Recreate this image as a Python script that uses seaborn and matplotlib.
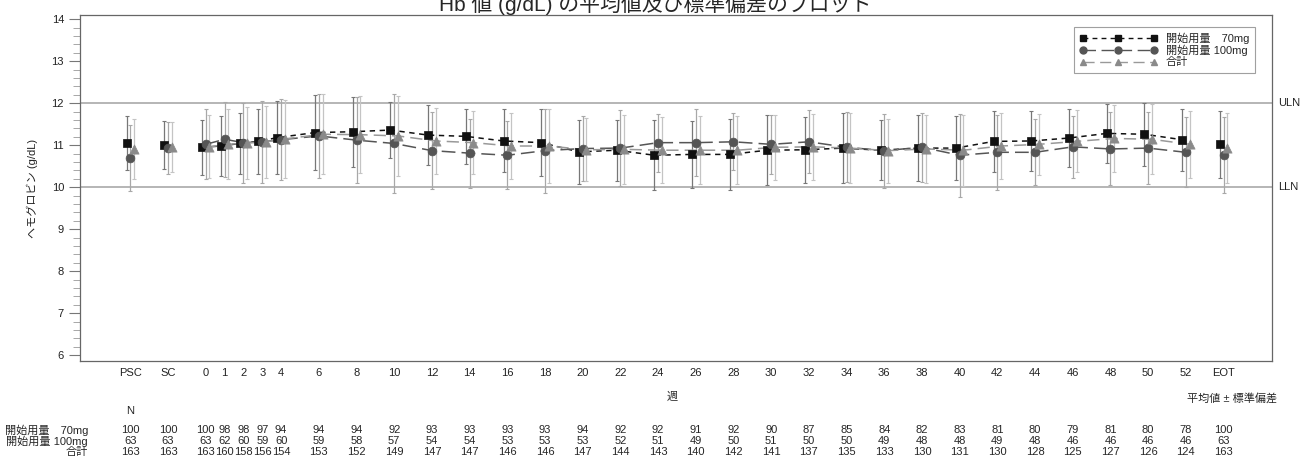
import numpy as np
import matplotlib
matplotlib.use("Agg")
import matplotlib.pyplot as plt
from matplotlib.lines import Line2D
import seaborn as sns
import pandas as pd

# visit labels and their week positions on the x axis
visits = ["PSC", "SC", "0", "1", "2", "3", "4", "6", "8", "10", "12", "14", "16", "18", "20",
          "22", "24", "26", "28", "30", "32", "34", "36", "38", "40", "42", "44", "46", "48",
          "50", "52", "EOT"]
weeks = [-4, -2, 0, 1, 2, 3, 4, 6, 8, 10, 12, 14, 16, 18, 20, 22, 24, 26, 28, 30, 32, 34,
         36, 38, 40, 42, 44, 46, 48, 50, 52, 54]

mean_70 = [11.06, 11.00, 10.95, 10.98, 11.04, 11.09, 11.18, 11.30, 11.32, 11.36, 11.24, 11.21,
           11.10, 11.06, 10.84, 10.88, 10.76, 10.78, 10.78, 10.88, 10.89, 10.93, 10.88, 10.93,
           10.93, 11.09, 11.10, 11.17, 11.28, 11.26, 11.13, 11.02]
mean_100 = [10.69, 10.93, 11.02, 11.14, 11.06, 11.08, 11.13, 11.22, 11.12, 11.04, 10.87, 10.81,
            10.76, 10.87, 10.92, 10.93, 11.06, 11.06, 11.08, 11.02, 11.08, 10.95, 10.87, 10.95,
            10.76, 10.83, 10.83, 10.96, 10.91, 10.93, 10.83, 10.77]
mean_all = [10.91, 10.96, 10.96, 11.02, 11.05, 11.08, 11.15, 11.26, 11.25, 11.22, 11.10, 11.06,
            10.98, 10.98, 10.89, 10.90, 10.88, 10.88, 10.88, 10.95, 10.96, 10.93, 10.87, 10.91,
            10.88, 10.98, 11.02, 11.09, 11.16, 11.14, 11.02, 10.93]

sd_70 = [0.64, 0.57, 0.65, 0.71, 0.73, 0.77, 0.87, 0.89, 0.83, 0.67, 0.71, 0.66, 0.75, 0.79,
         0.76, 0.73, 0.83, 0.80, 0.84, 0.83, 0.79, 0.83, 0.71, 0.79, 0.76, 0.73, 0.72, 0.70,
         0.71, 0.75, 0.74, 0.79]
sd_100 = [0.78, 0.61, 0.83, 0.89, 0.95, 0.97, 0.96, 1.00, 1.03, 1.18, 0.92, 0.82, 0.81, 1.00,
          0.77, 0.90, 0.69, 0.80, 0.68, 0.71, 0.75, 0.83, 0.88, 0.82, 0.99, 0.89, 0.79, 0.73,
          0.87, 0.85, 0.83, 0.90]
sd_all = [0.72, 0.59, 0.75, 0.83, 0.85, 0.86, 0.93, 0.95, 0.91, 0.96, 0.79, 0.75, 0.79, 0.88,
          0.75, 0.83, 0.79, 0.81, 0.81, 0.78, 0.78, 0.83, 0.76, 0.80, 0.85, 0.79, 0.73, 0.74,
          0.80, 0.83, 0.79, 0.83]

n_70 = [100, 100, 100, 98, 98, 97, 94, 94, 94, 92, 93, 93, 93, 93, 94, 92, 92, 91, 92, 90, 87,
        85, 84, 82, 83, 81, 80, 79, 81, 80, 78, 100]
n_100 = [63, 63, 63, 62, 60, 59, 60, 59, 58, 57, 54, 54, 53, 53, 53, 52, 51, 49, 50, 51, 50, 50,
         49, 48, 48, 49, 48, 46, 46, 46, 46, 63]
n_all = [163, 163, 163, 160, 158, 156, 154, 153, 152, 149, 147, 147, 146, 146, 147, 144, 143,
         140, 142, 141, 137, 135, 133, 130, 131, 130, 128, 125, 127, 126, 124, 163]

group_labels = ["開始用量\u300070mg", "開始用量 100mg", "合計"]

sns.set_theme(style="white")
plt.rcParams['font.family'] = ['Liberation Sans', 'Noto Sans CJK JP', 'DejaVu Sans']
plt.rcParams['axes.unicode_minus'] = False
FS = 8

fig = plt.figure(figsize=(13, 4.65), dpi=100)
ax = fig.add_axes([80/1300, 1-361/465, 1192/1300, 346/465])

styles = [
    dict(mean=mean_70, sd=sd_70, off=-0.2, marker="s", mcol="#111111", lcol="#111111",
         dash=(3.5, 3), ecol="#777777", s=34),
    dict(mean=mean_100, sd=sd_100, off=0.0, marker="o", mcol="#555555", lcol="#555555",
         dash=(9, 4), ecol="#a8a8a8", s=40),
    dict(mean=mean_all, sd=sd_all, off=0.2, marker="^", mcol="#8a8a8a", lcol="#999999",
         dash=(8, 4), ecol="#c4c4c4", s=44),
]

wk = np.array(weeks, dtype=float)
on_study = (wk >= 0) & (wk <= 52)

for st in styles:
    df = pd.DataFrame({"x": wk + st["off"], "y": st["mean"], "sd": st["sd"]})
    ax.errorbar(df["x"], df["y"], yerr=df["sd"], fmt="none", ecolor=st["ecol"],
                elinewidth=0.9, capsize=1.5, capthick=0.8, zorder=1)
    sub = df[on_study]
    sns.lineplot(data=sub, x="x", y="y", ax=ax, color=st["lcol"], lw=1.1,
                 dashes=False, linestyle=(0, st["dash"]), zorder=2)

for st in styles:
    df = pd.DataFrame({"x": wk + st["off"], "y": st["mean"]})
    sns.scatterplot(data=df, x="x", y="y", ax=ax, marker=st["marker"], color=st["mcol"],
                    s=st["s"], edgecolor=st["mcol"], linewidth=0.5, zorder=3)

# reference lines
for yv, lab in [(12, "ULN"), (10, "LLN")]:
    ax.axhline(yv, color="#b0b0b0", lw=1.3, zorder=0)
    ax.text(1.005, yv, lab, transform=ax.get_yaxis_transform(), ha="left", va="center",
            fontsize=FS, color="#222222")

ax.set_xlim(-6.67, 56.57)
ax.set_ylim(5.86, 14.1)
ax.set_xticks(weeks)
ax.set_xticklabels(visits)
ax.set_yticks(range(6, 15))
ax.set_yticks(np.arange(6, 14.01, 0.2), minor=True)
ax.tick_params(axis="x", length=0, pad=5, labelsize=FS, colors="#222222")
ax.tick_params(axis="y", which="major", direction="out", length=8, width=0.8,
               color="#777777", labelsize=FS, labelcolor="#222222", left=True)
ax.tick_params(axis="y", which="minor", direction="out", length=5, width=0.6,
               color="#999999", left=True)
for sp in ax.spines.values():
    sp.set_color("#666666")
    sp.set_linewidth(0.9)
ax.set_xlabel("")
ax.set_ylabel("ヘモグロビン (g/dL)", fontsize=FS, labelpad=10, color="#222222")

handles = [Line2D([], [], color=st["lcol"], linestyle=(0, st["dash"]), lw=1.0,
                  marker=st["marker"], markersize=5, markerfacecolor=st["mcol"],
                  markeredgecolor=st["mcol"]) for st in styles]
leg = ax.legend(handles, group_labels, loc="upper right", numpoints=3, handlelength=7,
                fontsize=FS, frameon=True, fancybox=False, borderaxespad=0,
                bbox_to_anchor=(1-17/1192, 1-12/346), labelspacing=0.1,
                borderpad=0.5, handletextpad=0.8)
leg.get_frame().set_edgecolor("#888888")
leg.get_frame().set_linewidth(0.8)

# title (partially cut at the top edge as in the source)
fig.text(655/1300, 1-11/465, "Hb 値 (g/dL) の平均値及び標準偏差のプロット", ha="center",
         va="baseline", fontsize=15)

# x axis caption and note
fig.text(672/1300, 1-397/465, "週", ha="center", va="center", fontsize=FS)
fig.text(1277/1300, 1-398/465, "平均値 ± 標準偏差", ha="right", va="center", fontsize=FS)

# N table under the plot
xt = ax.get_xaxis_transform()
ax.text(weeks[0], (361-411)/346, "N", transform=xt, ha="center", va="center", fontsize=FS,
        clip_on=False)
rows = [n_70, n_100, n_all]
row_y = [430, 441, 452]
for lab, vals, py in zip(group_labels, rows, row_y):
    yy = (361-py)/346
    fig.text(88/1300, 1-py/465, lab, ha="right", va="center", fontsize=FS)
    for w, v in zip(weeks, vals):
        ax.text(w, yy, str(v), transform=xt, ha="center", va="center", fontsize=FS,
                clip_on=False)

fig.savefig("out.png", dpi=100)
